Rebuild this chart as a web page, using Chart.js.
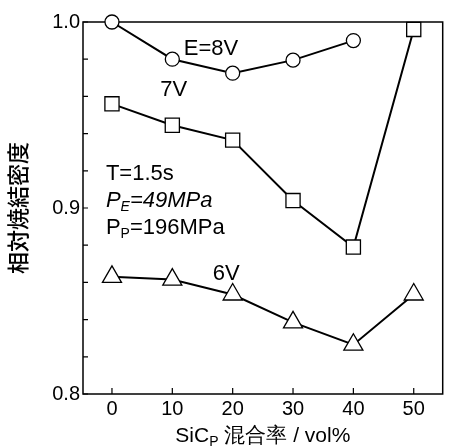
<!DOCTYPE html>
<html>
<head>
<meta charset="utf-8">
<script src="https://cdn.jsdelivr.net/npm/chart.js@4/dist/chart.umd.min.js"></script>
<style>
  html, body { margin: 0; padding: 0; background: #fff; }
  canvas { display: block; }
</style>
</head>
<body>
<canvas id="chart" width="455" height="448"></canvas>
<script>
// SiC_P content (vol%)
const sicContent = [0, 10, 20, 30, 40, 50];

// relative sintered density for each electric field
const density8V = [1.0, 0.980, 0.9725, 0.9795, 0.990];
const density7V = [0.956, 0.9445, 0.9365, 0.904, 0.879, 0.996];
const density6V = [0.863, 0.8615, 0.8535, 0.8385, 0.8265, 0.8535];

const xTicks = [0, 10, 20, 30, 40, 50];
const yTicks = [0.8, 0.82, 0.84, 0.86, 0.88, 0.9, 0.92, 0.94, 0.96, 0.98, 1.0];
const yLabels = [0.8, 0.9, 1.0];

const FONT = "'Liberation Sans', Arial, sans-serif";

function toPoints(values) {
    return values.map((v, i) => ({ x: sicContent[i], y: v }));
}

// text drawn with subscripts, parts: [text, isSub]
function drawParts(ctx, parts, x, y, size, italic) {
    let cx = x;
    parts.forEach(p => {
        const fs = p[1] ? Math.round(size * 0.65) : size;
        ctx.font = (italic ? 'italic ' : '') + fs + 'px ' + FONT;
        ctx.fillText(p[0], cx, p[1] ? y + size * 0.3 : y);
        cx += ctx.measureText(p[0]).width;
    });
    return cx - x;
}

// frame + inward ticks + text labels
const decorPlugin = {
    id: 'decor',
    beforeDatasetsDraw(chart) {
        const { ctx, chartArea: a, scales } = chart;
        ctx.save();
        ctx.strokeStyle = '#000';
        ctx.lineWidth = 1.5;
        ctx.strokeRect(a.left, a.top, a.right - a.left, a.bottom - a.top);
        ctx.lineWidth = 1.2;
        ctx.beginPath();
        yTicks.forEach(v => {
            const py = scales.y.getPixelForValue(v);
            ctx.moveTo(a.left, py);
            ctx.lineTo(a.left + 5, py);
        });
        xTicks.forEach(v => {
            const px = scales.x.getPixelForValue(v);
            ctx.moveTo(px, a.bottom);
            ctx.lineTo(px, a.bottom - 6);
        });
        ctx.stroke();
        ctx.restore();
    },
    afterDraw(chart) {
        const { ctx, chartArea: a, scales } = chart;
        const X = v => scales.x.getPixelForValue(v);
        const Y = v => scales.y.getPixelForValue(v);
        ctx.save();
        ctx.fillStyle = '#000';
        ctx.textBaseline = 'middle';
        ctx.textAlign = 'left';
        drawParts(ctx, [['E=8V', false]], X(11.9), Y(0.9855), 22, false);
        drawParts(ctx, [['7V', false]], X(8.0), Y(0.9635), 22, false);
        drawParts(ctx, [['6V', false]], X(16.7), Y(0.8645), 22, false);
        drawParts(ctx, [['T=1.5s', false]], X(-1.0), Y(0.9185), 22, false);
        drawParts(ctx, [['P', false], ['E', true], ['=49MPa', false]], X(-1.0), Y(0.904), 22, true);
        drawParts(ctx, [['P', false], ['P', true], ['=196MPa', false]], X(-1.0), Y(0.8895), 22, false);

        // x axis title with subscript
        const parts = [['SiC', false], ['P', true], [' 混合率 / vol%', false]];
        ctx.globalAlpha = 0;
        const w = drawParts(ctx, parts, 0, 0, 21, false);
        ctx.globalAlpha = 1;
        drawParts(ctx, parts, (a.left + a.right) / 2 - w / 2, 436, 21, false);
        ctx.restore();
    }
};

const markerStyle = {
    borderColor: '#000',
    backgroundColor: '#fff',
    borderWidth: 2,
    pointBorderWidth: 1.3,
    pointBackgroundColor: '#fff',
    pointBorderColor: '#000',
    tension: 0,
    clip: false
};

new Chart(document.getElementById('chart'), {
    type: 'line',
    data: {
        datasets: [
            Object.assign({ label: 'E=8V', data: toPoints(density8V), pointStyle: 'circle', pointRadius: 7 }, markerStyle),
            Object.assign({ label: '7V', data: toPoints(density7V), pointStyle: 'rect', pointRadius: 10 }, markerStyle),
            Object.assign({ label: '6V', data: toPoints(density6V), pointStyle: 'triangle', pointRadius: 11 }, markerStyle)
        ]
    },
    options: {
        responsive: false,
        animation: false,
        devicePixelRatio: 1,
        layout: { padding: { top: 22, right: 1, left: 0, bottom: 0 } },
        plugins: { legend: { display: false }, tooltip: { enabled: false } },
        elements: { point: { hoverRadius: 0 } },
        scales: {
            x: {
                type: 'linear',
                min: -4.8,
                max: 54.8,
                grid: { display: false, drawTicks: false },
                border: { display: false },
                afterBuildTicks: s => { s.ticks = xTicks.map(v => ({ value: v })); },
                afterFit: s => { s.height = 54; },
                ticks: {
                    color: '#000',
                    padding: 3,
                    maxRotation: 0,
                    font: { family: FONT, size: 20 }
                }
            },
            y: {
                min: 0.8,
                max: 1.0,
                grid: { display: false, drawTicks: false },
                border: { display: false },
                afterBuildTicks: s => { s.ticks = yLabels.map(v => ({ value: v })); },
                afterFit: s => { s.width = 83; },
                ticks: {
                    color: '#000',
                    padding: 3,
                    font: { family: FONT, size: 20 },
                    callback: v => v.toFixed(1)
                },
                title: {
                    display: true,
                    text: '相対焼結密度',
                    color: '#000',
                    padding: { top: 4, bottom: 0 },
                    font: { family: "'Noto Sans CJK JP', sans-serif", size: 22, weight: '500' }
                }
            }
        }
    },
    plugins: [decorPlugin]
});
</script>
</body>
</html>
